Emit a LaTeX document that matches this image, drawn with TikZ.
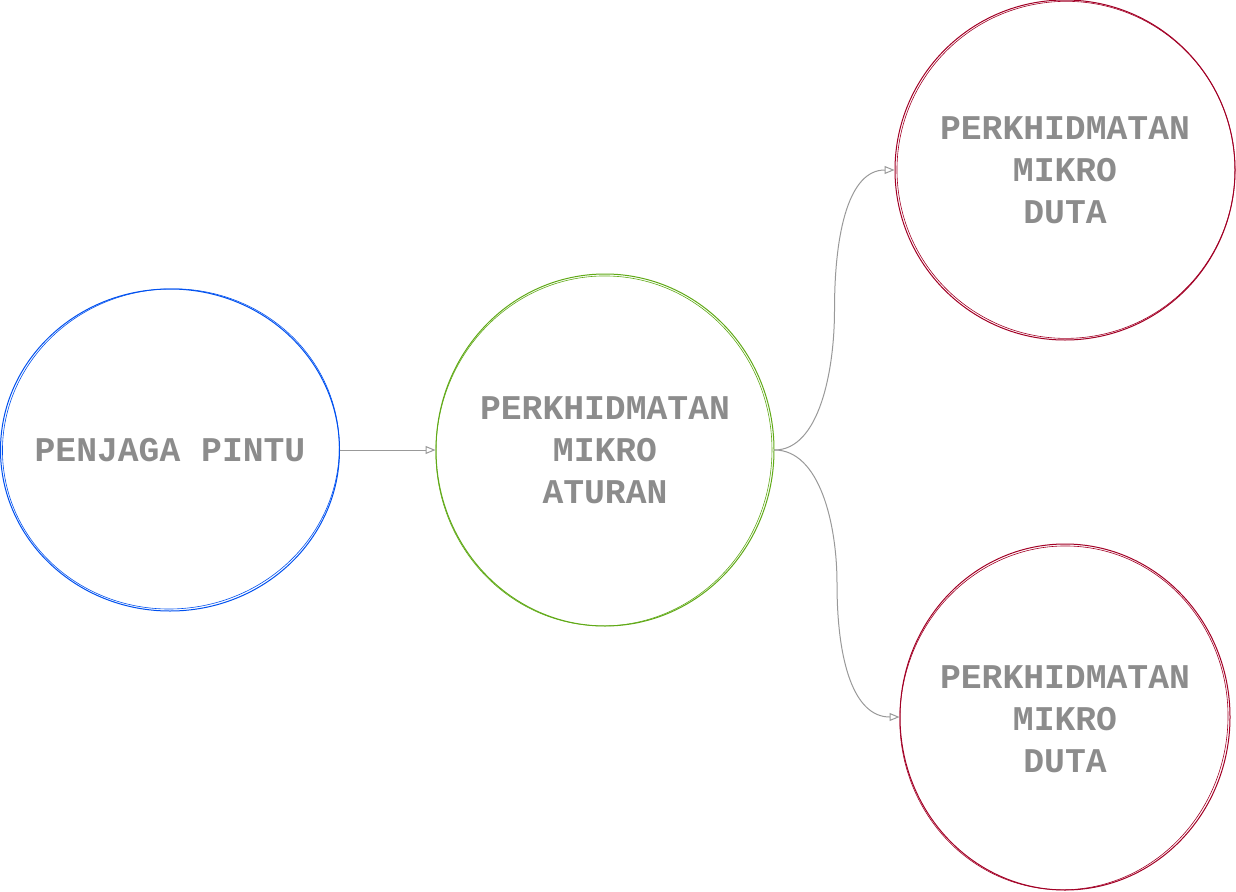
\documentclass[tikz,border=0pt]{standalone}
\usepackage{fontspec}
\setmonofont{Liberation Mono}
\usetikzlibrary{shapes.geometric,arrows.meta,calc}
\definecolor{cblue}{HTML}{0050EF}
\definecolor{cgreen}{HTML}{60A917}
\definecolor{cred}{HTML}{A20025}
\definecolor{ctext}{HTML}{8C8C8C}
\definecolor{cline}{HTML}{999999}
\begin{document}
\begin{tikzpicture}[x=1pt,y=-1pt,
  bubble/.style={ellipse,draw,line width=1pt,inner sep=0pt},
  label/.style={align=center,inner sep=0pt,
    font=\ttfamily\bfseries\fontsize{34.7}{42}\selectfont,text=ctext},
  conn/.style={draw=cline,line width=1pt,-{Triangle[open,length=10pt,width=8pt]}}]
\useasboundingbox (0,0) rectangle (1236,891);
\node[bubble,draw=cblue,minimum width=339pt,minimum height=322pt] (gate) at (170,450) {};
\node[bubble,draw=cgreen,minimum width=338pt,minimum height=352pt] (rule) at (605,450) {};
\node[bubble,draw=cred,minimum width=340pt,minimum height=340pt] (duta1) at (1065,170) {};
\node[bubble,draw=cred,minimum width=330pt,minimum height=346pt] (duta2) at (1065,717) {};
\node[label] (t1) at (gate.center) {PENJAGA PINTU};
\node[label] (t2) at (rule.center) {PERKHIDMATAN\\MIKRO\\ATURAN};
\node[label] (t3) at (duta1.center) {PERKHIDMATAN\\MIKRO\\DUTA};
\node[label] (t4) at ($(duta2.center)+(0,2)$) {PERKHIDMATAN\\MIKRO\\DUTA};
% sketchy second strokes
\draw[cblue,line width=0.6pt,rotate around={6:(gate.center)}] ($(gate.center)+(1,-1)$) ellipse [x radius=168.5pt,y radius=160pt];
\draw[cgreen,line width=0.6pt,rotate around={-4:(rule.center)}] ($(rule.center)+(-1,1)$) ellipse [x radius=168pt,y radius=175pt];
\draw[cred,line width=0.6pt,rotate around={8:(duta1.center)}] ($(duta1.center)+(1,0)$) ellipse [x radius=169pt,y radius=168.5pt];
\draw[cred,line width=0.6pt,rotate around={-6:(duta2.center)}] ($(duta2.center)+(-1,1)$) ellipse [x radius=164pt,y radius=172pt];
% connectors
\draw[conn] (gate.east) -- (rule.west);
\draw[conn] (rule.east) .. controls +(45,0) and +(0,60) .. ($(rule.east)!0.5!(duta1.west)$) .. controls +(0,-80) and +(-45,0) .. (duta1.west);
\draw[conn] (rule.east) .. controls +(45,0) and +(0,-60) .. ($(rule.east)!0.5!(duta2.west)$) .. controls +(0,80) and +(-45,0) .. (duta2.west);
\end{tikzpicture}
\end{document}
